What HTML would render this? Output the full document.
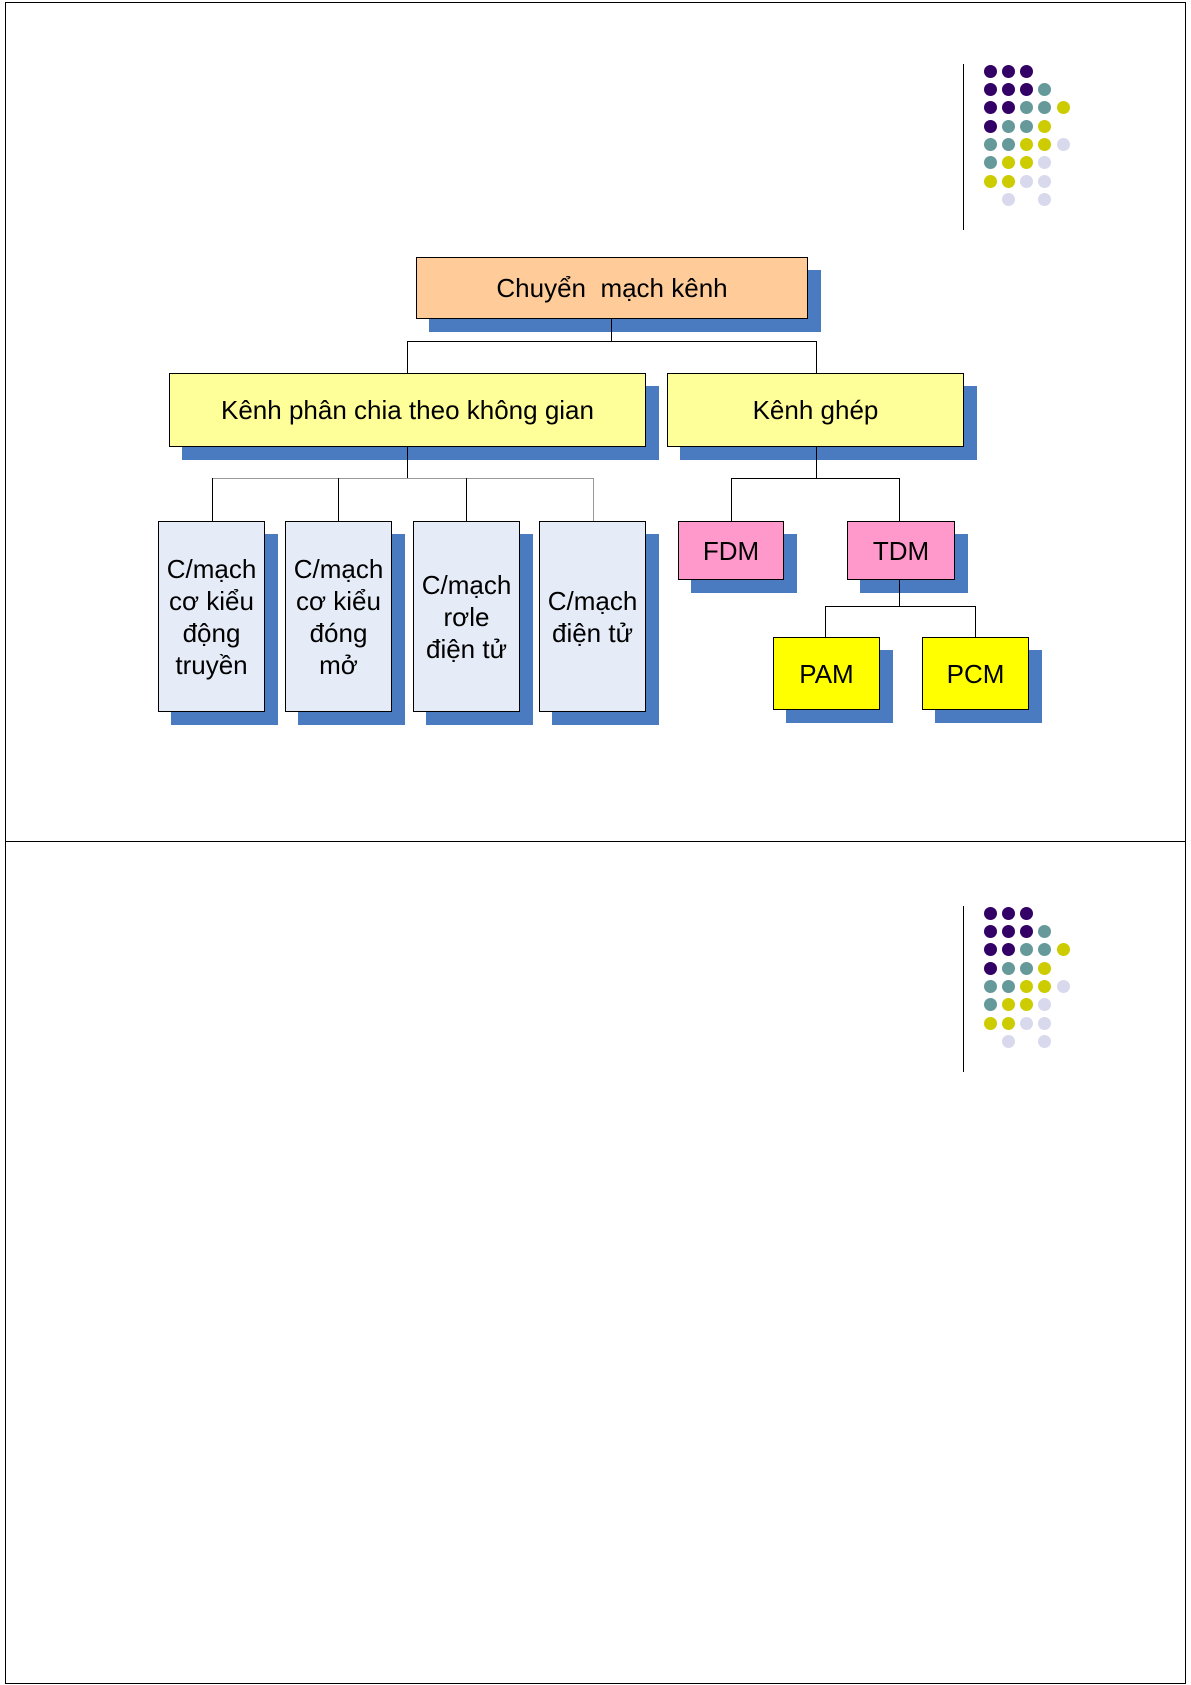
<!DOCTYPE html>
<html><head><meta charset="utf-8"><style>
body{margin:0;background:#fff;}
#p{position:relative;width:1191px;height:1685px;overflow:hidden;font-family:"Liberation Sans",sans-serif;}
.b{position:absolute;border:1px solid #000;box-sizing:border-box;display:flex;align-items:center;justify-content:center;text-align:center;font-size:26px;line-height:32px;color:#000;}
.s{position:absolute;background:#4a7abf;}
.l{position:absolute;background:#000;}
.g{position:absolute;background:#999;}
.d{position:absolute;width:13px;height:13px;border-radius:50%;}
</style></head><body><div id="p">
<div style="position:absolute;left:5px;top:2px;width:1179px;height:838px;border:1px solid #000;"></div>
<div style="position:absolute;left:5px;top:841px;width:1179px;height:842px;border-left:1px solid #000;border-right:1px solid #000;border-bottom:1px solid #000;"></div>
<div id="dots"></div>

<div class="s" style="left:429px;top:270px;width:392px;height:62px"></div>
<div class="b" style="left:416px;top:257px;width:392px;height:62px;background:#ffcc99">Chuyển&nbsp; mạch kênh</div>
<div class="l" style="left:611px;top:319px;width:1px;height:22px"></div>
<div class="l" style="left:407px;top:341px;width:410px;height:1px"></div>
<div class="l" style="left:407px;top:341px;width:1px;height:32px"></div>
<div class="l" style="left:816px;top:341px;width:1px;height:32px"></div>

<div class="s" style="left:182px;top:386px;width:477px;height:74px"></div>
<div class="b" style="left:169px;top:373px;width:477px;height:74px;background:#ffff99">Kênh phân chia theo không gian</div>
<div class="s" style="left:680px;top:386px;width:297px;height:74px"></div>
<div class="b" style="left:667px;top:373px;width:297px;height:74px;background:#ffff99">Kênh ghép</div>

<div class="l" style="left:407px;top:447px;width:1px;height:32px"></div>
<div class="g" style="left:212px;top:478px;width:382px;height:1px"></div>
<div class="l" style="left:212px;top:478px;width:1px;height:43px"></div>
<div class="l" style="left:338px;top:478px;width:1px;height:43px"></div>
<div class="l" style="left:466px;top:478px;width:1px;height:43px"></div>
<div class="g" style="left:593px;top:478px;width:1px;height:43px"></div>

<div class="s" style="left:171px;top:534px;width:107px;height:191px"></div>
<div class="b" style="left:158px;top:521px;width:107px;height:191px;background:#e6ecf7">C/mạch<br>cơ kiểu<br>động<br>truyền</div>
<div class="s" style="left:298px;top:534px;width:107px;height:191px"></div>
<div class="b" style="left:285px;top:521px;width:107px;height:191px;background:#e6ecf7">C/mạch<br>cơ kiểu<br>đóng<br>mở</div>
<div class="s" style="left:426px;top:534px;width:107px;height:191px"></div>
<div class="b" style="left:413px;top:521px;width:107px;height:191px;background:#e6ecf7">C/mạch<br>rơle<br>điện tử</div>
<div class="s" style="left:552px;top:534px;width:107px;height:191px"></div>
<div class="b" style="left:539px;top:521px;width:107px;height:191px;background:#e6ecf7">C/mạch<br>điện tử</div>

<div class="l" style="left:816px;top:447px;width:1px;height:31px"></div>
<div class="l" style="left:731px;top:478px;width:169px;height:1px"></div>
<div class="l" style="left:731px;top:478px;width:1px;height:43px"></div>
<div class="l" style="left:899px;top:478px;width:1px;height:43px"></div>

<div class="s" style="left:691px;top:534px;width:106px;height:59px"></div>
<div class="b" style="left:678px;top:521px;width:106px;height:59px;background:#ff99cc">FDM</div>
<div class="s" style="left:860px;top:534px;width:108px;height:59px"></div>
<div class="b" style="left:847px;top:521px;width:108px;height:59px;background:#ff99cc">TDM</div>

<div class="l" style="left:899px;top:580px;width:1px;height:26px"></div>
<div class="l" style="left:825px;top:606px;width:151px;height:1px"></div>
<div class="l" style="left:825px;top:606px;width:1px;height:31px"></div>
<div class="l" style="left:975px;top:606px;width:1px;height:31px"></div>

<div class="s" style="left:786px;top:650px;width:107px;height:73px"></div>
<div class="b" style="left:773px;top:637px;width:107px;height:73px;background:#ffff00">PAM</div>
<div class="s" style="left:935px;top:650px;width:107px;height:73px"></div>
<div class="b" style="left:922px;top:637px;width:107px;height:73px;background:#ffff00">PCM</div>
</div>
<script>
var P="#330066",T="#669999",Y="#cccc00",L="#d9d9ee";
var rows=[[P,P,P],[P,P,P,T],[P,P,T,T,Y],[P,T,T,Y],[T,T,Y,Y,L],[T,Y,Y,L],[Y,Y,L,L],[null,L,null,L]];
var xs=[990,1008,1026,1044,1063],ys=[71,89,107,126,144,162,181,199];
var h="";
[0,842].forEach(function(o){
h+='<div class="l" style="left:963px;top:'+(64+o)+'px;width:1px;height:166px"></div>';
rows.forEach(function(r,i){r.forEach(function(c,j){if(c)h+='<div class="d" style="left:'+(xs[j]-6)+'px;top:'+(ys[i]-6+o)+'px;background:'+c+'"></div>';});});
});
document.getElementById("dots").outerHTML=h;
</script>
</body></html>
